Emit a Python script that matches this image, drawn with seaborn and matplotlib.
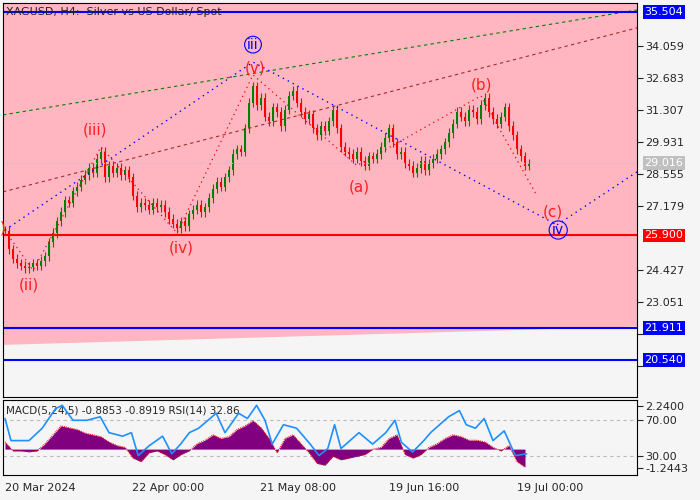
import numpy as np
import pandas as pd
import matplotlib.pyplot as plt
import matplotlib.transforms as mtransforms
import seaborn as sns

sns.set_style("white")
plt.rcParams['font.family'] = ['DejaVu Sans']

# H4 closes, one value per bar (bar index 0..130)
closes = [26.1, 25.3, 24.9, 24.7, 24.6, 24.5, 24.55, 24.7, 24.6, 24.8, 25.0,
          25.6, 26.0, 26.5, 26.9, 27.4, 27.3, 27.8, 28.0, 28.3, 28.5,
          28.8, 28.6, 29.2, 29.5, 28.4, 28.9, 28.6, 28.8, 28.5, 28.7,
          28.4, 27.6, 27.1, 27.3, 27.2, 27.0, 27.3, 27.1, 27.2, 26.9,
          26.6, 26.4, 26.2, 26.5, 26.3, 26.8, 27.0, 27.2, 26.9, 27.1,
          27.5, 27.9, 28.2, 28.0, 28.4, 28.7, 29.4, 29.6, 29.5, 30.5,
          31.6, 32.3, 31.5, 31.8, 31.0, 30.8, 31.4, 31.2, 30.6, 31.3,
          31.9, 32.1, 31.6, 31.2, 30.9, 31.1, 30.5, 30.2, 30.6, 30.4,
          30.8, 31.3, 30.5, 29.7, 29.5, 29.4, 29.2, 29.5, 29.1, 28.9,
          29.3, 29.2, 29.4, 29.7, 30.1, 30.5, 29.9, 29.4, 29.5, 29.0,
          28.9, 28.6, 28.8, 29.1, 28.7, 29.0, 29.2, 29.4, 29.6, 29.9,
          30.3, 30.7, 31.2, 31.0, 30.8, 31.3, 31.2, 30.9, 31.5, 31.8,
          31.2, 30.9, 30.7, 31.0, 31.4, 30.6, 30.2, 29.6, 29.3, 28.9, 29.0]

# MACD histogram, every 2nd bar
macd_idx = list(range(0, 132, 2))
macd = [0.4, -0.1, -0.1, -0.15, -0.1, 0.3, 0.8, 1.3, 1.2, 1.1, 0.9, 0.8, 0.7, 0.4, 0.2, 0.1,
        -0.5, -0.7, -0.2, -0.1, -0.3, -0.6, -0.3, -0.1, 0.3, 0.5, 0.8, 0.6, 0.7, 1.1, 1.3, 1.6,
        1.2, 0.6, -0.2, 0.6, 0.8, 0.3, -0.2, -0.8, -0.9, -0.4, -0.6, -0.5, -0.4, -0.3, 0.0, 0.1,
        0.6, 0.8, -0.3, -0.5, -0.3, 0.1, 0.3, 0.6, 0.8, 0.7, 0.5, 0.5, 0.4, 0.1, -0.1, 0.2, -0.7, -1.0]

rsi_idx = [0, 1.5, 6, 9.3, 12.6, 14.3, 17, 20.5, 23.8, 26, 29.4, 31.6, 33.3, 36, 39.4, 41.7, 43.9,
           46.1, 48.4, 52.8, 55, 58.4, 60.6, 62.9, 65, 66.8, 69.6, 72.9, 76.3, 78.5, 80.7, 82.4, 84,
           88.5, 91.9, 95.2, 97.5, 99.1, 101.9, 104.7, 106.4, 110.9, 113.6, 115.3, 117.6, 119.8, 122,
           124.8, 127.6, 130.4]
rsi = [72, 47, 47, 61, 83, 87, 70, 70, 74, 56, 52, 56, 30, 41, 52, 32, 43, 56, 61, 78, 56, 78, 72,
       87, 70, 43, 65, 61, 43, 30, 38, 65, 38, 56, 43, 56, 70, 45, 34, 47, 56, 74, 81, 65, 61, 72,
       47, 58, 30, 32]

# wave markup (bar index, price)
wave_x = [0, 62, 138, 158]
wave_y = [26.13, 33.35, 26.35, 28.63]
sub_x = [0, 7, 24, 43, 62, 88, 119, 133]
sub_y = [26.1, 24.4, 29.7, 26.0, 32.8, 28.9, 31.9, 27.6]
sub_labels = [(-0.5, 26.2, ")"), (6, 23.75, "(ii)"), (22.5, 30.45, "(iii)"), (44, 25.35, "(iv)"),
              (62.5, 33.1, "(v)"), (88.5, 28.0, "(a)"), (119, 32.35, "(b)"), (137, 26.9, "(c)")]

levels_blue = [35.504, 21.911, 20.540]
level_red = 25.900
last_price = 29.016
right_ticks = [34.059, 32.683, 31.307, 29.931, 28.555, 27.179, 24.427, 23.051, 21.675, 20.299]
hidden_ticks = [21.675, 20.299]
date_pos = [0, 31.75, 63.75, 96, 128]
date_labels = ["20 Mar 2024", "22 Apr 00:00", "21 May 08:00", "19 Jun 16:00", "19 Jul 00:00"]

bg = "#f5f5f5"
fig = plt.figure(figsize=(7, 5), dpi=100, facecolor=bg)
ax = fig.add_axes([3/700, 1-397/500, 634/700, 394/500], facecolor=bg)
ax2 = fig.add_axes([3/700, 1-475/500, 634/700, 75/500], facecolor=bg)

xmin, xmax = -0.5, 158
ax.set_xlim(xmin, xmax)
ax.set_ylim(18.95, 35.89)

# pink channel area
ax.fill([xmin, xmax, xmax, xmin], [35.89, 35.89, 21.98, 21.19], color="#ffb6c1", zorder=0, lw=0)

# channel trend lines
ax.plot([xmin, xmax], [31.08, 35.59], color="green", ls=(0, (3, 3)), lw=0.8)
ax.plot([xmin, xmax], [27.77, 34.82], color="brown", ls=(0, (3, 3)), lw=0.8)

ax.axhline(last_price, color="#c8c8c8", lw=0.8)
for lv in levels_blue:
    ax.axhline(lv, color="blue", lw=1.5)
ax.axhline(level_red, color="red", lw=1.5)

# candles
c = np.array(closes)
o = np.r_[c[0], c[:-1]]
df = pd.DataFrame({"i": np.arange(len(c)), "o": o, "c": c})
df["up"] = df["c"] >= df["o"]
for _, r in df.iterrows():
    col = "green" if r.up else "red"
    lo, hi = min(r.o, r.c), max(r.o, r.c)
    ax.vlines(r.i, lo - 0.2, hi + 0.2, color=col, lw=0.8)
    ax.bar(r.i, max(hi - lo, 0.03), bottom=lo, width=0.7, color=col, lw=0)

sns.lineplot(x=wave_x, y=wave_y, ax=ax, color="blue", ls=(0, (1, 3)), lw=1)
sns.lineplot(x=sub_x, y=sub_y, ax=ax, color="red", ls=(0, (1, 3)), lw=0.9, sort=False)

for xi, yi, t in sub_labels:
    ax.text(xi, yi, t, color="#ff2020", fontsize=11, ha="center", va="center")
ax.text(62, 34.1, "iii", color="blue", fontsize=10, ha="center", va="center",
        bbox=dict(boxstyle="circle,pad=0.1", fc="none", ec="blue", lw=0.8))
ax.text(138.3, 26.13, "iv", color="blue", fontsize=10, ha="center", va="center",
        bbox=dict(boxstyle="circle,pad=0.15", fc="none", ec="blue", lw=0.8))

ax.text(0.005, 0.99, "XAGUSD, H4:  Silver vs US Dollar/ Spot", transform=ax.transAxes,
        fontsize=8, va="top", ha="left", color="#222222")

# right axis (two labels sit behind the level boxes, so only their ticks show)
ax.yaxis.tick_right()
ax.set_yticks(right_ticks)
ax.set_yticklabels(["" if v in hidden_ticks else f"{v:.3f}" for v in right_ticks])
ax.tick_params(axis="y", labelsize=8, length=4, direction="out", right=True, pad=2)
ax.set_xticks([])
tr = mtransforms.blended_transform_factory(ax.transAxes, ax.transData)
for lv, fc, tc in [(35.504, "blue", "white"), (21.911, "blue", "white"), (20.540, "blue", "white"),
                   (25.900, "red", "white"), (29.016, "#c0c0c0", "white")]:
    ax.text(1.012, lv, f"{lv:.3f}", transform=tr, fontsize=8, color=tc, va="center", ha="left",
            bbox=dict(boxstyle="square,pad=0.15", fc=fc, ec="none"))
for s in ax.spines.values():
    s.set_color("black")
    s.set_linewidth(0.8)

# MACD / RSI panel
ax2.set_xlim(xmin, xmax)
ax2.set_ylim(8, 93)
axm = ax2.twinx()
axm.set_ylim(-1.45, 2.75)
axm.fill_between(macd_idx, macd, 0, color="#800080", lw=0)
axm.plot(macd_idx, macd, color="red", lw=0.7, ls=(0, (1, 1)))
for y in (70, 30):
    ax2.axhline(y, color="#bbbbbb", ls=(0, (3, 3)), lw=0.8)
axr = axm.twinx()
sns.lineplot(x=rsi_idx, y=rsi, ax=axr, color="#1e90ff", lw=1.2)
axr.set_ylim(8, 93)
for a in (axm, axr):
    a.set_yticks([])
    a.set_ylabel("")
    for s in a.spines.values():
        s.set_visible(False)
ax2.yaxis.tick_right()
ax2.set_yticks([86, 70, 30, 16])
ax2.set_yticklabels(["2.2400", "70.00", "30.00", "-1.2443"])
ax2.tick_params(axis="y", labelsize=8, length=4, pad=2)
ax2.set_xticks(date_pos)
ax2.set_xticklabels(date_labels, ha="left")
ax2.tick_params(axis="x", labelsize=8, length=4, direction="out", pad=2)
ax2.text(0.005, 0.93, "MACD(5,24,5) -0.8853 -0.8919 RSI(14) 32.86", transform=ax2.transAxes,
         fontsize=7.5, va="top", ha="left", zorder=10)
for s in ax2.spines.values():
    s.set_color("black")
    s.set_linewidth(0.8)

fig.savefig("out.png", dpi=100, facecolor=bg)
